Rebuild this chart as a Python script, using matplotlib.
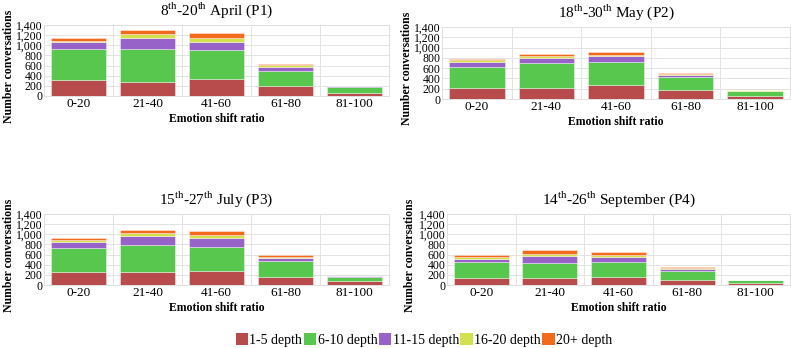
import matplotlib
matplotlib.use("Agg")
import matplotlib.pyplot as plt
import numpy as np
from matplotlib.patches import Patch

categories = ["0-20", "21-40", "41-60", "61-80", "81-100"]
depth_labels = ["1-5 depth", "6-10 depth", "11-15 depth", "16-20 depth", "20+ depth"]
colors = ["#B84B4B", "#58C74D", "#9763C9", "#D3E14F", "#F26A1C"]

titles = ["8$^{\\mathrm{th}}$-20$^{\\mathrm{th}}$ April (P1)",
          "18$^{\\mathrm{th}}$-30$^{\\mathrm{th}}$ May (P2)",
          "15$^{\\mathrm{th}}$-27$^{\\mathrm{th}}$ July (P3)",
          "14$^{\\mathrm{th}}$-26$^{\\mathrm{th}}$ September (P4)"]

# values per period: rows = depth groups, columns = categories
p1_d1_5   = [320, 275, 340, 190, 65]
p1_d6_10  = [610, 650, 565, 305, 117]
p1_d11_15 = [125, 220, 165, 70, 8]
p1_d16_20 = [35, 80, 80, 40, 3]
p1_d20p   = [45, 75, 90, 20, 3]

p2_d1_5   = [220, 210, 280, 175, 60]
p2_d6_10  = [410, 495, 435, 250, 100]
p2_d11_15 = [85, 100, 115, 45, 5]
p2_d16_20 = [35, 30, 35, 20, 2]
p2_d20p   = [25, 40, 40, 15, 2]

p3_d1_5   = [250, 260, 270, 165, 70]
p3_d6_10  = [485, 530, 475, 300, 95]
p3_d11_15 = [115, 170, 185, 70, 5]
p3_d16_20 = [40, 65, 50, 25, 2]
p3_d20p   = [35, 60, 80, 25, 2]

p4_d1_5   = [145, 145, 165, 105, 40]
p4_d6_10  = [305, 295, 295, 165, 52]
p4_d11_15 = [70, 135, 85, 45, 4]
p4_d16_20 = [35, 45, 45, 15, 2]
p4_d20p   = [30, 70, 60, 20, 2]

periods = [
    [p1_d1_5, p1_d6_10, p1_d11_15, p1_d16_20, p1_d20p],
    [p2_d1_5, p2_d6_10, p2_d11_15, p2_d16_20, p2_d20p],
    [p3_d1_5, p3_d6_10, p3_d11_15, p3_d16_20, p3_d20p],
    [p4_d1_5, p4_d6_10, p4_d11_15, p4_d16_20, p4_d20p],
]

plt.rcParams['font.family'] = ['Liberation Serif', 'DejaVu Serif']
plt.rcParams['mathtext.fontset'] = 'custom'
plt.rcParams['mathtext.rm'] = 'Liberation Serif'

W, H = 791, 348
fig = plt.figure(figsize=(W / 100, H / 100), dpi=100)

# axes rectangles in pixels: left, top, right, bottom
rects = [(44, 25, 389, 96), (442, 27, 790, 99), (44, 214, 389, 285), (447, 214, 790, 285)]
ylabel_x = [9, 407, 9, 410]

for idx, (l, t, r, b) in enumerate(rects):
    ax = fig.add_axes([l / W, 1 - b / H, (r - l) / W, (b - t) / H])
    x = np.arange(len(categories))
    bottom = np.zeros(len(categories))
    for vals, c in zip(periods[idx], colors):
        v = np.array(vals, dtype=float)
        ax.bar(x, v, bottom=bottom, width=0.8, color=c,
               edgecolor=(1, 1, 1, 0.45), linewidth=0.6, zorder=3)
        bottom += v
    ax.set_xlim(-0.5, len(categories) - 0.5)
    ax.set_ylim(0, 1400)
    ax.set_yticks(np.arange(0, 1401, 200))
    ax.set_yticklabels([f"{v:,}" for v in range(0, 1401, 200)], fontsize=8.5)
    ax.set_xticks(x)
    ax.set_xticklabels(categories, fontsize=9.5)
    ax.set_xticks(np.arange(0.5, len(categories) - 0.5, 1), minor=True)
    ax.grid(axis='y', which='major', color='#E3E3E3', linewidth=0.7, zorder=0)
    ax.grid(axis='x', which='minor', color='#E3E3E3', linewidth=0.7, zorder=0)
    ax.grid(axis='x', which='major', visible=False)
    ax.tick_params(axis='both', which='both', length=0, pad=1.5)
    ax.tick_params(axis='y', pad=1)
    for s in ax.spines.values():
        s.set_color('#E0E0E0')
        s.set_linewidth(0.7)
    ax.set_title(titles[idx], fontsize=11, pad=7)
    ax.set_xlabel("Emotion shift ratio", fontsize=8.5, fontweight='bold', labelpad=2)
    ax.set_ylabel("Number conversations", fontsize=8.5, fontweight='bold',
                  va='center', ha='center')
    ax.yaxis.set_label_coords((ylabel_x[idx] - l) / (r - l), 0.42)

handles = [Patch(facecolor=c, edgecolor='none') for c in colors]
fig.legend(handles, depth_labels, loc='center', bbox_to_anchor=(424 / W, 1 - 340 / H),
           ncol=5, frameon=False, fontsize=10, handlelength=0.9, handleheight=0.9,
           handletextpad=0.1, columnspacing=0.1, borderpad=0)

fig.savefig("out.png", dpi=100)
